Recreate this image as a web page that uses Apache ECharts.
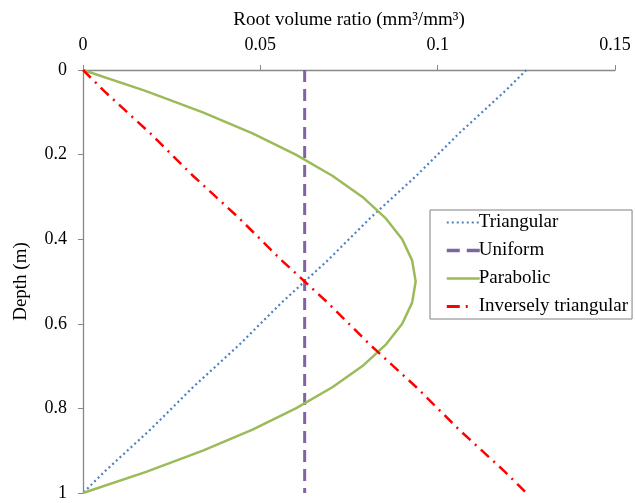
<!DOCTYPE html>
<html>
<head>
<meta charset="utf-8">
<script src="https://cdn.jsdelivr.net/npm/echarts@6/dist/echarts.min.js"></script>
<style>
  html, body { margin: 0; padding: 0; background: #fff; }
  #chart { width: 635px; height: 503px; }
</style>
</head>
<body>
<div id="chart"></div>
<script>
// Depth samples (m)
const depths = [0, 0.05, 0.1, 0.15, 0.2, 0.25, 0.3, 0.35, 0.4, 0.45, 0.5,
                0.55, 0.6, 0.65, 0.7, 0.75, 0.8, 0.85, 0.9, 0.95, 1];

// Root volume ratio (mm3/mm3) for each distribution
const triangular = [0.125, 0.119, 0.1125, 0.106, 0.1, 0.094, 0.0875, 0.081, 0.075, 0.069, 0.0625,
                    0.056, 0.05, 0.044, 0.0375, 0.031, 0.025, 0.019, 0.0125, 0.006, 0];
const uniform = [0.0625, 0.0625, 0.0625, 0.0625, 0.0625, 0.0625, 0.0625, 0.0625, 0.0625, 0.0625, 0.0625,
                 0.0625, 0.0625, 0.0625, 0.0625, 0.0625, 0.0625, 0.0625, 0.0625, 0.0625, 0.0625];
const parabolic = [0, 0.0178, 0.0338, 0.0478, 0.06, 0.0703, 0.0788, 0.0853, 0.09, 0.0928, 0.0938,
                   0.0928, 0.09, 0.0853, 0.0788, 0.0703, 0.06, 0.0478, 0.0338, 0.0178, 0];
const inverselyTriangular = [0, 0.006, 0.0125, 0.019, 0.025, 0.031, 0.0375, 0.044, 0.05, 0.056, 0.0625,
                             0.069, 0.075, 0.081, 0.0875, 0.094, 0.1, 0.106, 0.1125, 0.119, 0.125];

const seriesNames = ['Triangular', 'Uniform', 'Parabolic', 'Inversely triangular'];
const xTicks = [0, 0.05, 0.1, 0.15];
const yTicks = [0, 0.2, 0.4, 0.6, 0.8, 1];

const FONT = '"Liberation Serif", "Times New Roman", serif';
const pairs = vals => vals.map((v, i) => [v, depths[i]]);
const tickText = list => v => String(list.find(t => Math.abs(t - v) < 1e-9) ?? v);

const styles = [
  { color: '#4F81BD', width: 2.2, type: [2, 3] },
  { color: '#8064A2', width: 3, type: [12, 7] },
  { color: '#9BBB59', width: 2.5, type: 'solid' },
  { color: '#FF0000', width: 2.5, type: [11, 6, 2, 6] }
];
const legendLine = [
  { color: '#4F81BD', width: 2.2, type: [2, 3] },
  { color: '#8064A2', width: 3.5, type: [13, 7] },
  { color: '#9BBB59', width: 2.5, type: 'solid' },
  { color: '#FF0000', width: 3, type: [13, 6, 2, 20] }
];
const values = [triangular, uniform, parabolic, inverselyTriangular];

const chart = echarts.init(document.getElementById('chart'), null, { renderer: 'canvas' });
chart.setOption({
  animation: false,
  backgroundColor: '#fff',
  textStyle: { fontFamily: FONT },
  grid: { left: 83, top: 70, right: 20, bottom: 10, containLabel: false },
  legend: {
    data: seriesNames.map((name, i) => ({
      name,
      itemStyle: { opacity: 0 },
      lineStyle: legendLine[i]
    })),
    orient: 'vertical',
    left: 430,
    top: 210,
    backgroundColor: '#fff',
    borderColor: '#808080',
    borderWidth: 1,
    padding: [3, 4, 3, 15],
    itemGap: 9,
    itemWidth: 33,
    itemHeight: 14,
    textStyle: { fontFamily: FONT, fontSize: 19, color: '#000', padding: [0, 0, 0, -6] }
  },
  xAxis: {
    type: 'value',
    position: 'top',
    min: 0,
    max: 0.15,
    interval: 0.05,
    name: 'Root volume ratio (mm³/mm³)',
    nameLocation: 'middle',
    nameGap: 40,
    nameTextStyle: { fontFamily: FONT, fontSize: 19, color: '#000' },
    axisLine: { show: true, lineStyle: { color: '#888', width: 1.3 } },
    axisTick: { show: true, inside: false, length: 5, lineStyle: { color: '#888' } },
    axisLabel: { fontFamily: FONT, fontSize: 18, color: '#000', margin: 16,
                 formatter: tickText(xTicks) },
    splitLine: { show: false }
  },
  yAxis: {
    type: 'value',
    inverse: true,
    min: 0,
    max: 1,
    interval: 0.2,
    name: 'Depth (m)',
    nameLocation: 'middle',
    nameRotate: 90,
    nameGap: 52,
    nameTextStyle: { fontFamily: FONT, fontSize: 19, color: '#000' },
    axisLine: { show: true, lineStyle: { color: '#888', width: 1.3 } },
    axisTick: { show: true, inside: false, length: 5, lineStyle: { color: '#888' } },
    axisLabel: { fontFamily: FONT, fontSize: 18, color: '#000', margin: 16,
                 formatter: tickText(yTicks) },
    splitLine: { show: false }
  },
  series: seriesNames.map((name, i) => ({
    name,
    type: 'line',
    data: pairs(values[i]),
    symbol: 'none',
    smooth: false,
    clip: false,
    lineStyle: styles[i],
    itemStyle: { color: styles[i].color },
    z: [1, 2, 3, 4][i]
  }))
});
</script>
</body>
</html>
